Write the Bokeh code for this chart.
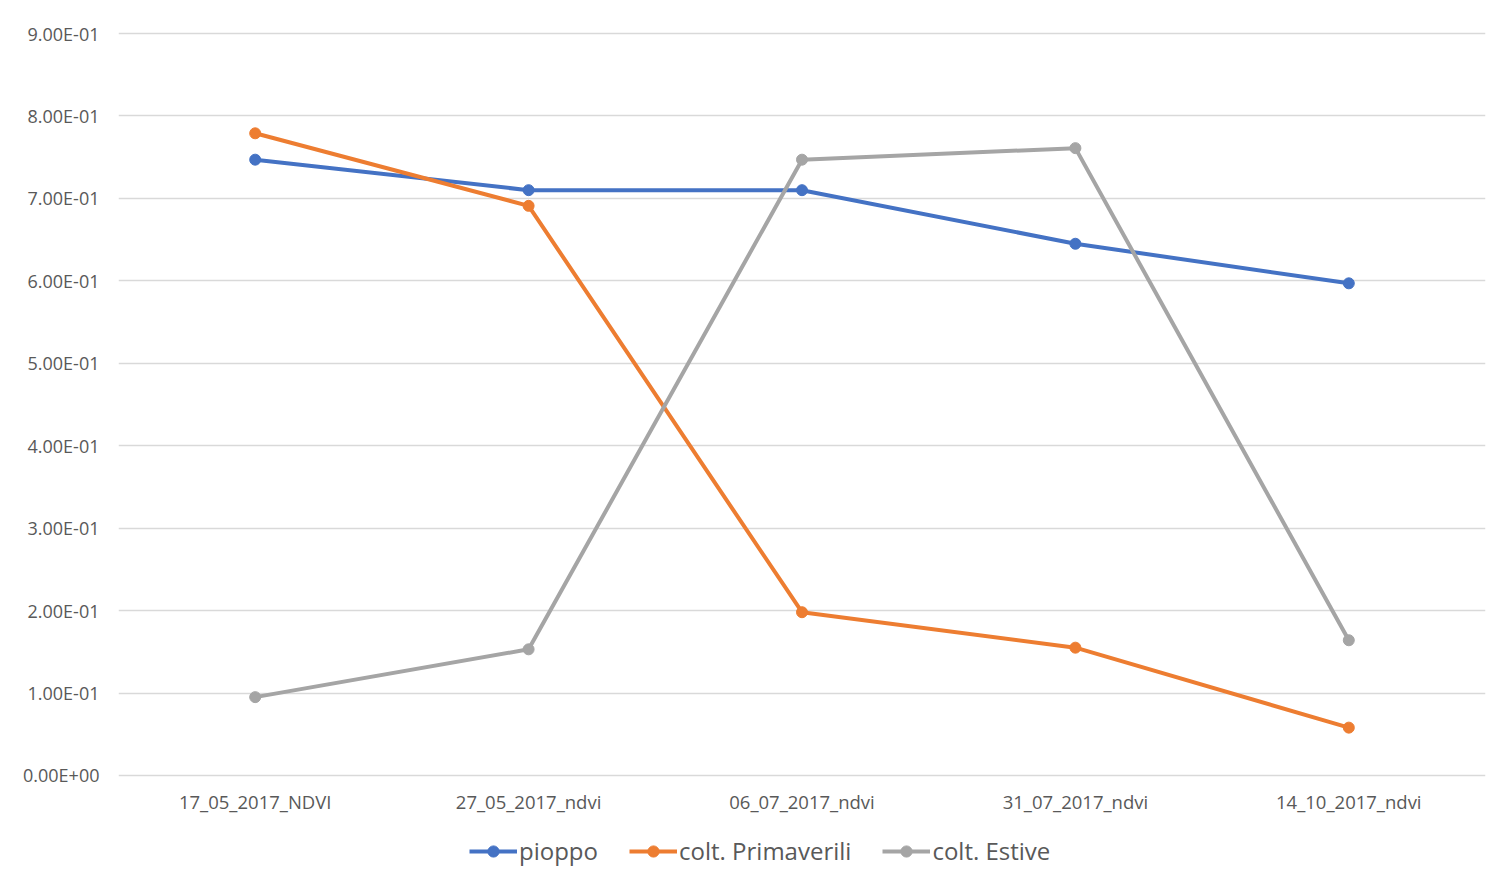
from bokeh.plotting import figure
from bokeh.layouts import column
from bokeh.models import FactorRange, Range1d, Legend, LegendItem, FixedTicker
from bokeh.embed import file_html
from bokeh.resources import INLINE

# NDVI acquisition dates
dates = ["17_05_2017_NDVI", "27_05_2017_ndvi", "06_07_2017_ndvi",
         "31_07_2017_ndvi", "14_10_2017_ndvi"]

# Mean NDVI per land-cover class
pioppo = [0.747, 0.710, 0.710, 0.645, 0.597]
colt_primaverili = [0.779, 0.691, 0.198, 0.155, 0.058]
colt_estive = [0.095, 0.153, 0.747, 0.761, 0.164]

y_ticks = [0.0, 0.1, 0.2, 0.3, 0.4, 0.5, 0.6, 0.7, 0.8, 0.9]
y_tick_labels = ["0.00E+00", "1.00E-01", "2.00E-01", "3.00E-01", "4.00E-01",
                 "5.00E-01", "6.00E-01", "7.00E-01", "8.00E-01", "9.00E-01"]

series = [
    ("pioppo", pioppo, "#4472C4"),
    ("colt. Primaverili", colt_primaverili, "#ED7D31"),
    ("colt. Estive", colt_estive, "#A5A5A5"),
]

FONT = "Open Sans"
TEXT = "#595959"

p = figure(width=1493, height=820, x_range=FactorRange(*dates),
           y_range=Range1d(-0.0025, 0.9025), output_backend="svg",
           toolbar_location=None, min_border_left=118, min_border_right=8,
           min_border_top=31, min_border_bottom=43)
p.outline_line_color = None
p.background_fill_color = "white"
p.border_fill_color = "white"

p.xgrid.grid_line_color = None
p.ygrid.grid_line_color = "#D9D9D9"
p.ygrid.grid_line_width = 1.5
p.ygrid.ticker = FixedTicker(ticks=y_ticks)

p.yaxis.ticker = FixedTicker(ticks=y_ticks)
p.yaxis.major_label_overrides = {t: l for t, l in zip(y_ticks, y_tick_labels)}
for ax in (p.xaxis[0], p.yaxis[0]):
    ax.axis_line_color = None
    ax.major_tick_line_color = None
    ax.minor_tick_line_color = None
    ax.major_label_text_font = FONT
    ax.major_label_text_color = TEXT
p.yaxis.major_label_text_font_size = "18px"
p.xaxis.major_label_text_font_size = "18.5px"
p.yaxis.major_label_standoff = 13
p.xaxis.major_label_standoff = 5

for name, vals, color in series:
    p.line(dates, vals, line_color=color, line_width=4)
    p.scatter(dates, vals, size=11, fill_color=color, line_color=color)

# Legend strip under the chart; its swatches reuse the series data but the
# y range keeps them out of view so only the legend shows.
leg = figure(width=1493, height=61, x_range=FactorRange(*dates),
             y_range=Range1d(5, 6), output_backend="svg",
             toolbar_location=None, x_axis_location=None, y_axis_location=None,
             min_border_left=0, min_border_right=0, min_border_top=0,
             min_border_bottom=0)
leg.outline_line_color = None
leg.xgrid.grid_line_color = None
leg.ygrid.grid_line_color = None

items = []
for name, vals, color in series:
    ln = leg.line(dates, vals, line_color=color, line_width=4)
    pt = leg.scatter(dates, vals, size=11, fill_color=color, line_color=color)
    items.append(LegendItem(label=name, renderers=[ln, pt]))

legend = Legend(items=items, orientation="horizontal", location=(351, 14),
                label_text_font=FONT, label_text_color=TEXT,
                label_text_font_size="24px", glyph_width=48, glyph_height=28,
                label_standoff=2, spacing=31, border_line_color=None,
                background_fill_alpha=0, padding=0, margin=0)
leg.add_layout(legend)

layout = column(p, leg, spacing=0)
open("out.html", "w").write(file_html(layout, INLINE))
